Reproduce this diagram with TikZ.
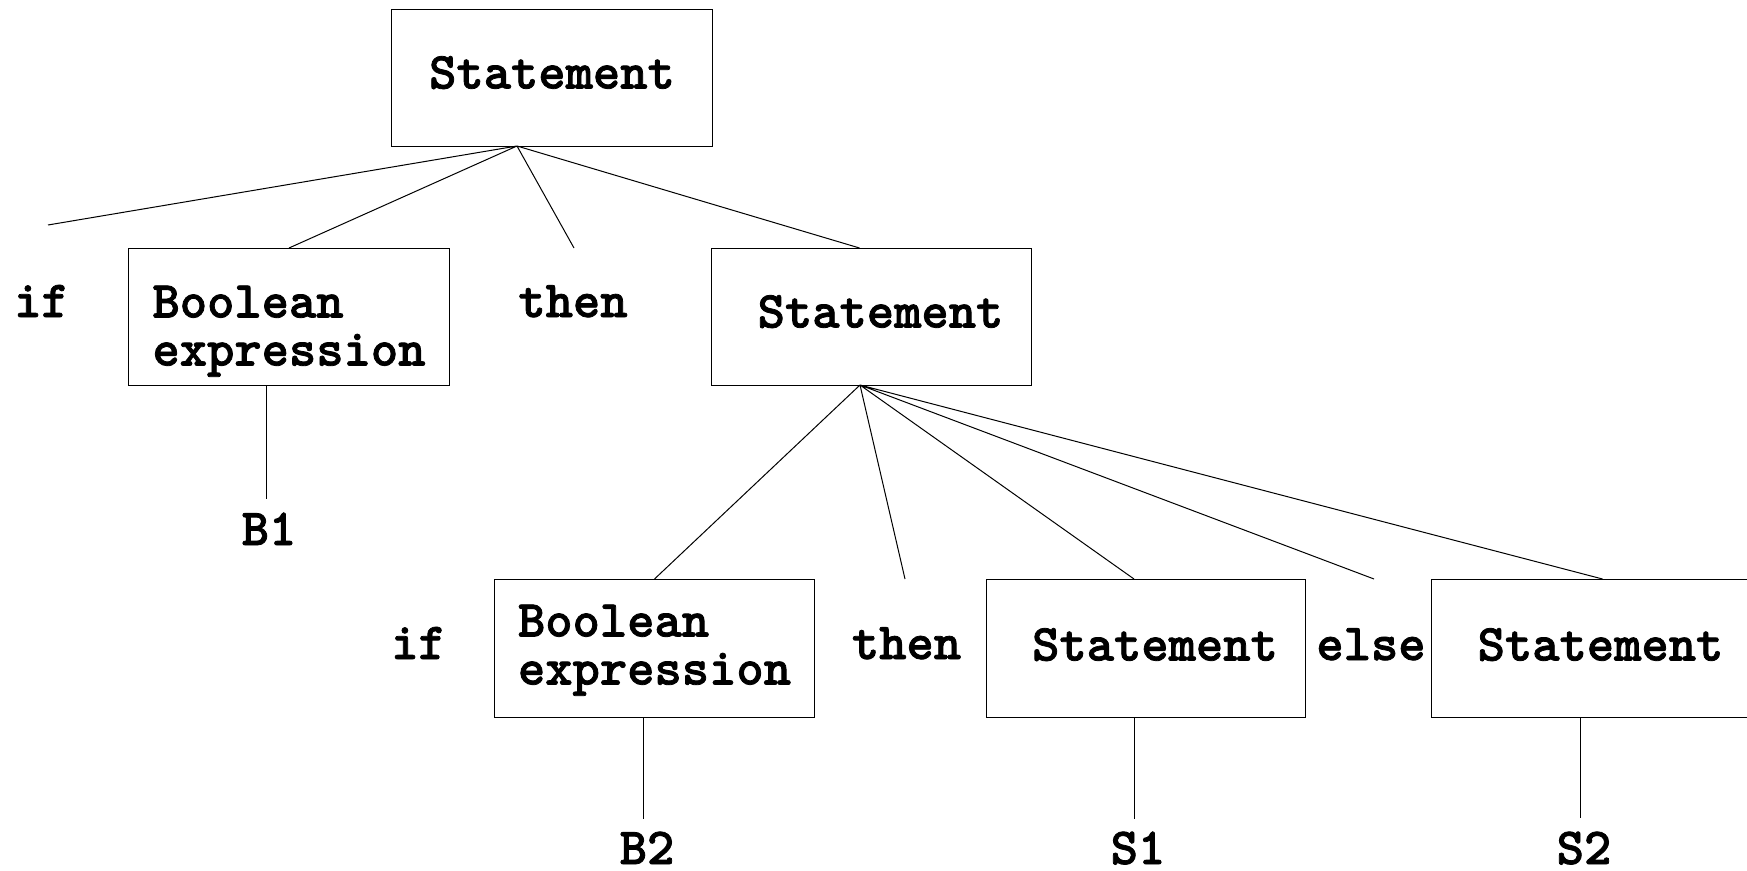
\documentclass[tikz,border=0pt]{standalone}
\usepackage{fontspec}
\usepackage{tikz}
\newfontfamily\treefont{lmmonolt10-bold.otf}[FakeBold=1.5]

\begin{document}
\begin{tikzpicture}[x=1pt, y=-1pt, line width=1pt,
    every node/.style={font=\fontsize{52}{48}\selectfont\treefont},
    box/.style={draw, inner sep=0pt, minimum width=321pt, anchor=north west,
      text height=79pt, text depth=58pt},
    stmt/.style={box, execute at begin node=\hspace*{18pt}},
    word/.style={anchor=base, inner sep=0pt}]

  \useasboundingbox (0,0) rectangle (1747,870);

  %% upper level
  \node[box] (topS) at (391,9) {Statement};
  \node[word] (ifA) at (41.5,317) {if};
  \node[box, text height=69pt, text depth=68pt] (boolA) at (128,248)
    {\begin{tabular}[t]{@{}l@{}}Boolean\\expression\end{tabular}};
  \node[word] (thenA) at (573,317) {then};
  \node[stmt, minimum width=320pt] (stmtA) at (711,248) {Statement};
  \node[word] (bA) at (269,545) {B1};

  %% lower level
  \node[word] (ifB) at (418.5,659) {if};
  \node[box, minimum width=320pt, text height=57pt, text depth=81pt] (boolB) at (494,579)
    {\begin{tabular}[t]{@{}l@{}}Boolean\\expression\end{tabular}};
  \node[word] (thenB) at (906.5,659) {then};
  \node[stmt, minimum width=319pt, text height=81pt, text depth=57pt] (stmtB) at (986,579) {Statement};
  \node[word] (elseB) at (1371,660) {else};
  \node[stmt, minimum width=320pt, text height=81pt, text depth=57pt] (stmtC) at (1431,579) {Statement};
  \node[word] (bB) at (647,864) {B2};
  \node[word] (sA) at (1138,864) {S1};
  \node[word] (sB) at (1584,864) {S2};

  %% branch points and loose ends
  \coordinate (forkA) at (517,146);
  \coordinate (forkB) at (860,385);
  \coordinate (ifAtip) at (48,225);
  \coordinate (thenAtip) at (574,248);
  \coordinate (thenBtip) at (905,579);
  \coordinate (elseBtip) at (1374,579);
  \coordinate (bAtip) at (266,499);
  \coordinate (bBtip) at (643,819);
  \coordinate (sAtip) at (1134,819);
  \coordinate (sBtip) at (1580,818);

  \draw (forkA) -- (ifAtip)
        (forkA) -- (boolA.north)
        (forkA) -- (thenAtip)
        (forkA) -- ([xshift=-12]stmtA.north);
  \draw (forkB) -- (boolB.north)
        (forkB) -- (thenBtip)
        (forkB) -- ([xshift=-12]stmtB.north)
        (forkB) -- (elseBtip)
        (forkB) -- ([xshift=11]stmtC.north);
  \draw (bAtip |- boolA.south) -- (bAtip);
  \draw (bBtip |- boolB.south) -- (bBtip);
  \draw (sAtip |- stmtB.south) -- (sAtip);
  \draw (sBtip |- stmtC.south) -- (sBtip);

\end{tikzpicture}
\end{document}
